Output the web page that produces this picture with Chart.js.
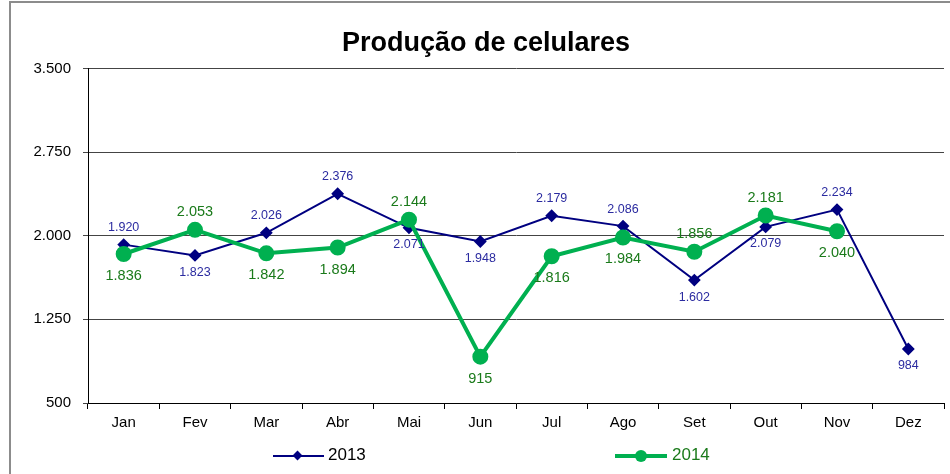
<!DOCTYPE html>
<html>
<head>
<meta charset="utf-8">
<script src="https://cdn.jsdelivr.net/npm/chart.js@4.4.1/dist/chart.umd.min.js"></script>
<style>
  html, body { margin: 0; padding: 0; background: #fff; }
  body { width: 950px; height: 474px; position: relative; overflow: hidden; font-family: "Liberation Sans", Arial, sans-serif; }
  #frame { position: absolute; left: 9px; top: 1px; width: 960px; height: 500px; border: 2px solid #8c8c8c; box-sizing: border-box; }
  #wrap { position: absolute; left: 0; top: 0; width: 954px; height: 474px; }
  .leg { position: absolute; top: 445px; height: 20px; font-size: 17px; line-height: 20px; }
  .leg .ln { position: absolute; top: 9px; left: 0; }
  .leg .mk { position: absolute; }
  .leg .tx { position: absolute; top: 0; white-space: nowrap; }
</style>
</head>
<body>
<div id="frame"></div>
<div id="wrap"><canvas id="chart" width="954" height="474"></canvas></div>

<div class="leg" style="left:273px;">
  <div class="ln" style="width:51px;height:2px;background:#000080;top:10px;"></div>
  <div class="mk" style="left:21px;top:7px;width:7px;height:7px;background:#000080;transform:rotate(45deg);"></div>
  <div class="tx" style="left:55px;color:#000;">2013</div>
</div>
<div class="leg" style="left:615px;">
  <div class="ln" style="width:52px;height:4px;background:#00b050;"></div>
  <div class="mk" style="left:20px;top:5px;width:12px;height:12px;border-radius:50%;background:#00b050;"></div>
  <div class="tx" style="left:57px;color:#1a7a1a;">2014</div>
</div>

<script>
const months = ['Jan', 'Fev', 'Mar', 'Abr', 'Mai', 'Jun', 'Jul', 'Ago', 'Set', 'Out', 'Nov', 'Dez'];
const values2013 = [1920, 1823, 2026, 2376, 2071, 1948, 2179, 2086, 1602, 2079, 2234, 984];
const values2014 = [1836, 2053, 1842, 1894, 2144, 915, 1816, 1984, 1856, 2181, 2040, null];

// where each value label sits relative to its point
const labelSide2013 = ['up', 'down', 'up', 'up', 'down', 'down', 'up', 'up', 'down', 'down', 'up', 'down'];
const labelSide2014 = ['down', 'up', 'down', 'down', 'up', 'down', 'down', 'down', 'up', 'up', 'down', 'down'];

function fmt(v) {
    return String(v).replace(/\B(?=(\d{3})+(?!\d))/g, '.');
}

/* value labels next to each point */
const valueLabels = {
    id: 'valueLabels',
    afterDatasetsDraw(chart) {
        const ctx = chart.ctx;
        const setups = [
            { sides: labelSide2013, color: '#2b2ba0', font: '12.5px "Liberation Sans", Arial', up: 17, down: 17 },
            { sides: labelSide2014, color: '#1a7a1a', font: '14.5px "Liberation Sans", Arial', up: 18, down: 22 }
        ];
        ctx.save();
        ctx.textAlign = 'center';
        ctx.textBaseline = 'middle';
        chart.data.datasets.forEach((ds, di) => {
            const meta = chart.getDatasetMeta(di);
            const s = setups[di];
            ctx.fillStyle = s.color;
            ctx.font = s.font;
            meta.data.forEach((pt, i) => {
                const v = ds.data[i];
                if (v === null || v === undefined) return;
                const dy = s.sides[i] === 'up' ? -s.up : s.down;
                ctx.fillText(fmt(v), pt.x, pt.y + dy);
            });
        });
        ctx.restore();
    }
};

Chart.defaults.font.family = '"Liberation Sans", Arial, sans-serif';
Chart.defaults.color = '#000';

new Chart(document.getElementById('chart'), {
    type: 'line',
    data: {
        labels: months,
        datasets: [
            {
                label: '2013',
                data: values2013,
                order: 1,
                borderColor: '#000080',
                backgroundColor: '#000080',
                borderWidth: 2,
                pointStyle: 'rectRot',
                pointRadius: 5,
                pointHoverRadius: 5,
                tension: 0
            },
            {
                label: '2014',
                data: values2014,
                order: 0,
                borderColor: '#00b050',
                backgroundColor: '#00b050',
                borderWidth: 4,
                pointStyle: 'circle',
                pointRadius: 6,
                pointHoverRadius: 6,
                tension: 0
            }
        ]
    },
    options: {
        responsive: false,
        animation: false,
        layout: { padding: { left: 16, right: -2, top: 0, bottom: 41 } },
        plugins: {
            legend: { display: false },
            tooltip: { enabled: false },
            title: {
                display: true,
                text: 'Produção de celulares',
                color: '#000',
                font: { size: 27, weight: 'bold' },
                padding: { top: 27, bottom: 9 }
            }
        },
        scales: {
            x: {
                offset: true,
                grid: {
                    offset: true,
                    drawOnChartArea: false,
                    drawTicks: true,
                    tickLength: 6,
                    color: '#000'
                },
                border: { color: '#000', width: 1 },
                ticks: { font: { size: 15 }, color: '#000', padding: 5 },
                afterFit(scale) { scale.height = 30; }
            },
            y: {
                min: 500,
                max: 3500,
                ticks: {
                    stepSize: 750,
                    font: { size: 15 },
                    color: '#000',
                    padding: 12,
                    callback: v => fmt(v)
                },
                grid: { color: '#444', tickLength: 5, drawTicks: true },
                border: { color: '#000', width: 1 },
                afterFit(scale) { scale.width = 72; }
            }
        }
    },
    plugins: [valueLabels]
});
</script>
</body>
</html>
